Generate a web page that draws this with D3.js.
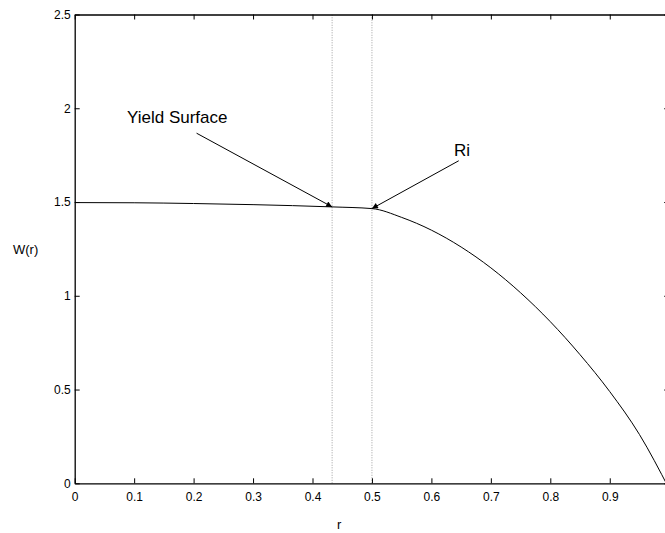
<!DOCTYPE html>
<html lang="en-US">
<head>
    <meta charset="utf-8">
    <script src="https://d3js.org/d3.v7.min.js"></script>
    <style>
        body { margin: 0; background: #fff; }
        svg { display: block; font-family: "Liberation Sans", Arial, sans-serif; }
        .axis path, .axis line { stroke: #000; }
        .axis text { font-size: 12px; fill: #000; }
    </style>
</head>
<body>
<div id="canvas"></div>
<script>
    // values
    var rValues = [0, 0.1, 0.2, 0.3, 0.433, 0.5, 0.55, 0.6, 0.65, 0.7, 0.75, 0.8, 0.85, 0.9, 0.95, 1.0];
    var wValues = [1.497, 1.496, 1.492, 1.486, 1.474, 1.465, 1.418, 1.35, 1.26, 1.149, 1.016, 0.862, 0.686, 0.489, 0.26, -0.03];
    var xTicks = [0, 0.1, 0.2, 0.3, 0.4, 0.5, 0.6, 0.7, 0.8, 0.9];
    var yTicks = [0, 0.5, 1, 1.5, 2, 2.5];
    var markers = [0.433, 0.5];   // yield surface, Ri

    var svg = d3.select("#canvas")
        .append("svg")
        .attr("width", 665)
        .attr("height", 533);

    var x = d3.scaleLinear().domain([0, 1]).range([74.7, 669.2]);
    var y = d3.scaleLinear().domain([0, 2.5]).range([483.3, 14.5]);

    var defs = svg.append("defs");
    defs.append("clipPath")
        .attr("id", "plot")
        .append("rect")
        .attr("x", x(0))
        .attr("y", y(2.5))
        .attr("width", x(1) - x(0))
        .attr("height", y(0) - y(2.5));

    // dotted markers
    svg.selectAll(".marker")
        .data(markers)
        .enter()
            .append("line")
            .attr("class", "marker")
            .attr("x1", function(d) { return x(d); })
            .attr("x2", function(d) { return x(d); })
            .attr("y1", y(0))
            .attr("y2", y(2.5))
            .attr("stroke", "#888")
            .attr("stroke-width", 0.8)
            .attr("stroke-dasharray", "1,1.5");

    // box with inward ticks on all four sides
    svg.append("g")
        .attr("class", "axis")
        .attr("transform", "translate(0," + y(0) + ")")
        .call(d3.axisBottom(x).tickValues(xTicks).tickSizeInner(-5).tickSizeOuter(0).tickPadding(9).tickFormat(d3.format("")))
        .call(function(g) { g.select(".domain").attr("stroke-width", 1.3); });

    svg.append("g")
        .attr("class", "axis")
        .attr("transform", "translate(0," + y(2.5) + ")")
        .call(d3.axisTop(x).tickValues(xTicks).tickSizeInner(-5).tickSizeOuter(0).tickFormat(""))
        .call(function(g) { g.select(".domain").attr("stroke-width", 1.3); });

    svg.append("g")
        .attr("class", "axis")
        .attr("transform", "translate(" + x(0) + ",0)")
        .call(d3.axisLeft(y).tickValues(yTicks).tickSizeInner(-5).tickSizeOuter(0).tickPadding(4).tickFormat(d3.format("")))
        .call(function(g) { g.select(".domain").attr("stroke-width", 1.3); });

    svg.append("g")
        .attr("class", "axis")
        .attr("transform", "translate(" + x(1) + ",0)")
        .call(d3.axisRight(y).tickValues(yTicks).tickSizeInner(-5).tickSizeOuter(0).tickFormat(""));

    // curve
    var line = d3.line()
        .x(function(d, i) { return x(rValues[i]); })
        .y(function(d) { return y(d); })
        .curve(d3.curveMonotoneX);

    svg.append("path")
        .datum(wValues)
        .attr("fill", "none")
        .attr("stroke", "#000")
        .attr("stroke-width", 1)
        .attr("clip-path", "url(#plot)")
        .attr("d", line);

    // arrows
    defs.append("marker")
        .attr("id", "head")
        .attr("viewBox", "0 0 10 10")
        .attr("refX", 10)
        .attr("refY", 5)
        .attr("markerWidth", 9)
        .attr("markerHeight", 6)
        .attr("markerUnits", "userSpaceOnUse")
        .attr("orient", "auto")
        .append("path")
        .attr("d", "M0,0L10,5L0,10Z")
        .attr("fill", "#000");

    var arrows = [
        { from: [0.205, 1.867], to: [0.433, 1.474] },
        { from: [0.646, 1.72], to: [0.5, 1.465] }
    ];

    svg.selectAll(".arrow")
        .data(arrows)
        .enter()
            .append("line")
            .attr("class", "arrow")
            .attr("x1", function(d) { return x(d.from[0]); })
            .attr("y1", function(d) { return y(d.from[1]); })
            .attr("x2", function(d) { return x(d.to[0]); })
            .attr("y2", function(d) { return y(d.to[1]); })
            .attr("stroke", "#000")
            .attr("stroke-width", 1)
            .attr("marker-end", "url(#head)");

    svg.append("text")
        .attr("x", x(0.088))
        .attr("y", y(1.92))
        .attr("font-size", 17)
        .text("Yield Surface");

    svg.append("text")
        .attr("x", x(0.638))
        .attr("y", y(1.744))
        .attr("font-size", 17)
        .text("Ri");

    // axis labels
    svg.append("text")
        .attr("x", 13)
        .attr("y", 253.5)
        .attr("font-size", 13)
        .text("W(r)");

    svg.append("text")
        .attr("x", 337)
        .attr("y", 529)
        .attr("font-size", 13)
        .text("r");
</script>
</body>
</html>
